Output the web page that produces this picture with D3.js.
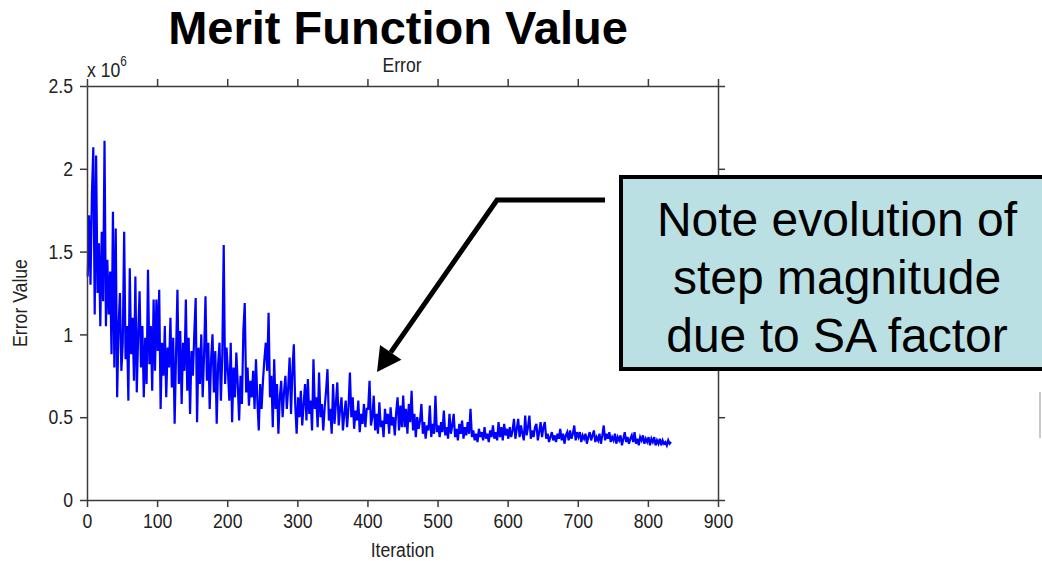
<!DOCTYPE html>
<html>
<head>
<meta charset="utf-8">
<script src="https://cdn.jsdelivr.net/npm/d3@7"></script>
<style>
  body { margin: 0; background: #fff; }
  svg { display: block; }
  .axis path, .axis line { stroke: #3a3a3a; stroke-width: 1.5; }
  .axis text { font-family: Arial, "Liberation Sans", sans-serif; font-size: 21px; fill: #222; }
  .lbl { font-family: Arial, "Liberation Sans", sans-serif; font-size: 21px; fill: #222; }
</style>
</head>
<body>
<svg width="1042" height="561"></svg>
<script>
// ---- data ----
const xTicks = [0, 100, 200, 300, 400, 500, 600, 700, 800, 900];
const yTicks = [0, 0.5, 1, 1.5, 2, 2.5];
const firstIter = 1;
const iterStep = 2;
// error value (x 10^6), one sample every 2 iterations
const errorVals = [
  1.35, 1.72, 1.30, 1.85, 2.13, 1.12, 2.08, 1.25, 1.55, 1.05, 1.62, 1.20, 2.17, 1.05, 1.45, 1.12, 1.38, 0.88, 1.74, 0.80, 1.64, 0.62, 1.05, 1.25, 0.78,
  0.95, 1.62, 0.85, 1.05, 0.60, 1.40, 0.88, 1.10, 0.72, 1.35, 0.65, 1.00, 1.26, 0.80, 1.05, 0.62, 0.98, 0.70, 1.39, 0.82, 1.05, 0.66, 1.21, 0.78, 1.21,
  0.90, 1.27, 0.55, 0.95, 0.75, 1.05, 0.62, 0.92, 0.80, 1.10, 0.68, 0.98, 0.46, 0.88, 1.27, 0.70, 1.02, 0.58, 0.95, 0.78, 1.21, 0.66, 0.98, 0.52, 0.90,
  0.75, 1.00, 1.22, 0.47, 0.92, 0.70, 1.00, 0.62, 0.88, 1.23, 0.72, 0.95, 0.55, 0.85, 1.00, 0.65, 0.90, 0.46, 0.82, 0.95, 0.60, 0.88, 1.54, 0.70, 0.92,
  0.78, 0.60, 0.95, 0.47, 0.80, 0.62, 0.89, 0.70, 0.48, 0.75, 0.58, 1.02, 1.19, 0.65, 0.80, 0.57, 0.72, 0.62, 0.78, 0.55, 0.85, 0.60, 0.42, 0.70, 0.55,
  0.72, 0.85, 0.95, 0.78, 1.13, 0.62, 0.75, 0.44, 0.85, 0.55, 0.70, 0.40, 0.62, 0.72, 0.50, 0.65, 0.75, 0.55, 0.68, 0.86, 0.52, 0.78, 0.94, 0.58, 0.40,
  0.62, 0.50, 0.66, 0.45, 0.58, 0.70, 0.48, 0.73, 0.52, 0.60, 0.42, 0.85, 0.55, 0.62, 0.44, 0.77, 0.50, 0.58, 0.42, 0.56, 0.66, 0.79, 0.48, 0.55, 0.40,
  0.70, 0.46, 0.58, 0.71, 0.45, 0.55, 0.62, 0.42, 0.52, 0.60, 0.44, 0.56, 0.77, 0.50, 0.62, 0.43, 0.54, 0.48, 0.60, 0.41, 0.52, 0.46, 0.58, 0.44, 0.55,
  0.55, 0.72, 0.45, 0.50, 0.63, 0.42, 0.52, 0.40, 0.59, 0.44, 0.48, 0.38, 0.55, 0.46, 0.52, 0.40, 0.56, 0.45, 0.50, 0.39, 0.53, 0.62, 0.42, 0.57, 0.44,
  0.63, 0.44, 0.55, 0.40, 0.58, 0.47, 0.66, 0.42, 0.52, 0.38, 0.50, 0.43, 0.48, 0.58, 0.40, 0.47, 0.37, 0.45, 0.42, 0.57, 0.38, 0.46, 0.40, 0.63, 0.41,
  0.45, 0.38, 0.47, 0.41, 0.54, 0.39, 0.44, 0.37, 0.52, 0.40, 0.45, 0.52, 0.38, 0.43, 0.36, 0.46, 0.40, 0.48, 0.37, 0.44, 0.39, 0.47, 0.40, 0.55, 0.38,
  0.42, 0.36, 0.40, 0.35, 0.43, 0.38, 0.41, 0.36, 0.44, 0.37, 0.40, 0.35, 0.42, 0.38, 0.45, 0.37, 0.41, 0.36, 0.47, 0.38, 0.44, 0.36, 0.46, 0.39, 0.43,
  0.37, 0.44, 0.38, 0.42, 0.49, 0.37, 0.43, 0.49, 0.38, 0.45, 0.40, 0.36, 0.51, 0.39, 0.44, 0.51, 0.37, 0.42, 0.38, 0.44, 0.46, 0.36, 0.41, 0.47, 0.38,
  0.44, 0.47, 0.37, 0.40, 0.35, 0.38, 0.41, 0.36, 0.39, 0.35, 0.40, 0.37, 0.43, 0.36, 0.40, 0.34, 0.39, 0.41, 0.36, 0.42, 0.37, 0.40, 0.45, 0.36, 0.41,
  0.38, 0.41, 0.35, 0.39, 0.37, 0.40, 0.34, 0.38, 0.41, 0.36, 0.39, 0.42, 0.35, 0.38, 0.36, 0.40, 0.34, 0.39, 0.45, 0.36, 0.40, 0.37, 0.41, 0.35, 0.38,
  0.36, 0.40, 0.34, 0.38, 0.36, 0.39, 0.33, 0.37, 0.41, 0.35, 0.38, 0.34, 0.37, 0.39, 0.35, 0.41, 0.34, 0.37, 0.33, 0.38, 0.36, 0.39, 0.34, 0.37, 0.35,
  0.38, 0.33, 0.37, 0.35, 0.38, 0.33, 0.36, 0.34, 0.37, 0.33, 0.36, 0.34, 0.35, 0.33, 0.36, 0.34, 0.35
];
const noteLines = ['Note evolution of', 'step magnitude', 'due to SA factor'];

// ---- layout ----
const plot = { left: 87, right: 718, top: 86, bottom: 500 };
const narrow = 0.84; // matlab-ish condensed labels

const svg = d3.select('svg');
svg.append('rect').attr('width', 1042).attr('height', 561).attr('fill', '#fff');

const x = d3.scaleLinear().domain([0, 900]).range([plot.left, plot.right]);
const y = d3.scaleLinear().domain([0, 2.5]).range([plot.bottom, plot.top]);

// squeeze a text horizontally around its own anchor
function squeeze(sel) {
  sel.each(function() {
    const t = d3.select(this);
    const xv = +t.attr('x') || 0;
    const tf = t.attr('transform') || '';
    t.attr('x', xv / narrow).attr('transform', `${tf} scale(${narrow},1)`);
  });
}

// data line first so axes sit on top
const line = d3.line()
  .x((d, i) => x(firstIter + i * iterStep))
  .y(d => y(d));

svg.append('path')
  .datum(errorVals)
  .attr('d', line)
  .attr('fill', 'none')
  .attr('stroke', '#0000ff')
  .attr('stroke-width', 2.2);

// axes, all four sides, ticks pointing out
const gx = svg.append('g').attr('class', 'axis')
  .attr('transform', `translate(0,${plot.bottom})`)
  .call(d3.axisBottom(x).tickValues(xTicks).tickSize(7).tickSizeOuter(0).tickPadding(6));

svg.append('g').attr('class', 'axis')
  .attr('transform', `translate(0,${plot.top})`)
  .call(d3.axisTop(x).tickValues(xTicks).tickSize(7).tickSizeOuter(0).tickFormat(''));

const gy = svg.append('g').attr('class', 'axis')
  .attr('transform', `translate(${plot.left},0)`)
  .call(d3.axisLeft(y).tickValues(yTicks).tickSize(7).tickSizeOuter(0).tickPadding(7).tickFormat(d => String(d)));

svg.append('g').attr('class', 'axis')
  .attr('transform', `translate(${plot.right},0)`)
  .call(d3.axisRight(y).tickValues(yTicks).tickSize(7).tickSizeOuter(0).tickFormat(''));

squeeze(gx.selectAll('text'));
squeeze(gy.selectAll('text'));

// labels
squeeze(svg.append('text').attr('class', 'lbl')
  .attr('x', (plot.left + plot.right) / 2).attr('y', 557)
  .attr('text-anchor', 'middle').text('Iteration'));

squeeze(svg.append('text').attr('class', 'lbl')
  .attr('transform', `translate(27,${(plot.top + plot.bottom) / 2 + 10}) rotate(-90)`)
  .attr('text-anchor', 'middle').text('Error Value'));

squeeze(svg.append('text').attr('class', 'lbl')
  .attr('x', 402).attr('y', 72)
  .attr('text-anchor', 'middle').text('Error'));

const exp = svg.append('text').attr('class', 'lbl').attr('x', plot.left).attr('y', 77);
exp.append('tspan').text('x 10');
exp.append('tspan').attr('dy', -11).style('font-size', '14px').text('6');
squeeze(exp);

// title
svg.append('text')
  .attr('x', 398).attr('y', 44)
  .attr('text-anchor', 'middle')
  .style('font-family', 'Arial, "Liberation Sans", sans-serif')
  .style('font-weight', 'bold')
  .style('font-size', '47px')
  .text('Merit Function Value');

// callout arrow
const tip = [377, 372], elbow = [497, 200], start = [605, 200];
const ang = Math.atan2(tip[1] - elbow[1], tip[0] - elbow[0]);
const headLen = 24, headHalf = 13;
const base = [tip[0] - headLen * Math.cos(ang), tip[1] - headLen * Math.sin(ang)];
const px = -Math.sin(ang), py = Math.cos(ang);

svg.append('polyline')
  .attr('points', [start, elbow, base].map(p => p.join(',')).join(' '))
  .attr('fill', 'none')
  .attr('stroke', '#000')
  .attr('stroke-width', 5)
  .attr('stroke-linejoin', 'miter');

svg.append('polygon')
  .attr('points', [tip,
    [base[0] + headHalf * px, base[1] + headHalf * py],
    [base[0] - headHalf * px, base[1] - headHalf * py]].map(p => p.join(',')).join(' '))
  .attr('fill', '#000');

// callout box
svg.append('rect')
  .attr('x', 621).attr('y', 177)
  .attr('width', 440).attr('height', 192)
  .attr('fill', '#bbe0e3')
  .attr('stroke', '#000')
  .attr('stroke-width', 4);

svg.append('g')
  .selectAll('text')
  .data(noteLines)
  .join('text')
  .attr('x', 837).attr('y', (d, i) => 236 + i * 58)
  .attr('text-anchor', 'middle')
  .style('font-family', 'Arial, "Liberation Sans", sans-serif')
  .style('font-size', '48px')
  .attr('fill', '#000')
  .text(d => d);

// edge of another shape peeking in at the right
svg.append('rect')
  .attr('x', 1039).attr('y', 392).attr('width', 2).attr('height', 46)
  .attr('fill', '#c8c8c8');
</script>
</body>
</html>
